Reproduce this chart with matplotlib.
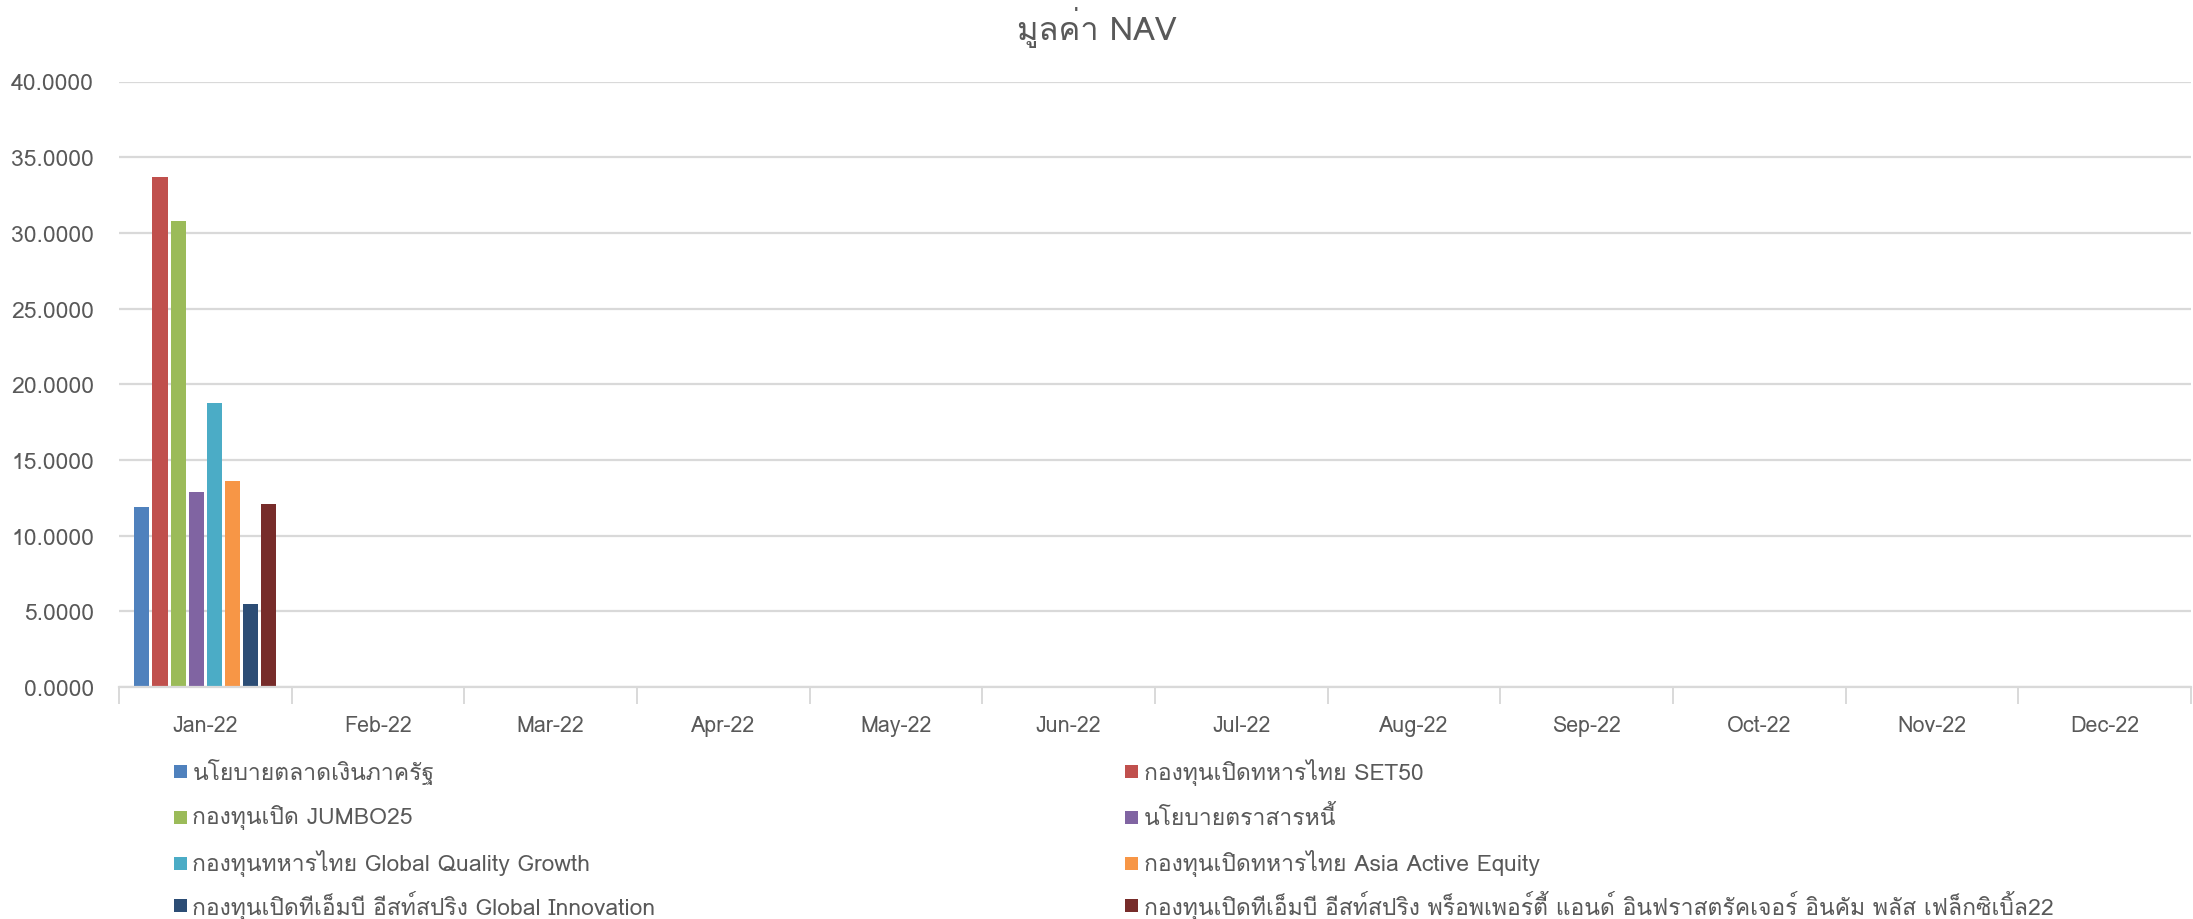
import matplotlib
matplotlib.use("Agg")
import matplotlib.pyplot as plt
from matplotlib import font_manager
from matplotlib.ft2font import FT2Font
from matplotlib.patches import Rectangle
import numpy as np

# ---------------- data ----------------
months = ["Jan-22", "Feb-22", "Mar-22", "Apr-22", "May-22", "Jun-22",
          "Jul-22", "Aug-22", "Sep-22", "Oct-22", "Nov-22", "Dec-22"]
series_names = [
    "นโยบายตลาดเงินภาครัฐ",
    "กองทุนเปิดทหารไทย SET50",
    "กองทุนเปิด JUMBO25",
    "นโยบายตราสารหนี้",
    "กองทุนทหารไทย Global Quality Growth",
    "กองทุนเปิดทหารไทย Asia Active Equity",
    "กองทุนเปิดทีเอ็มบี อีสท์สปริง Global Innovation",
    "กองทุนเปิดทีเอ็มบี อีสท์สปริง พร็อพเพอร์ตี้ แอนด์ อินฟราสตรัคเจอร์ อินคัม พลัส เฟล็กซิเบิ้ล22",
]
jan_values = [11.86, 33.66, 30.76, 12.86, 18.74, 13.64, 5.47, 12.07]
colors = ["#4F81BD", "#C0504D", "#9BBB59", "#8064A2",
          "#4BACC6", "#F79646", "#2C4D75", "#772C2A"]
yticks = [0, 5, 10, 15, 20, 25, 30, 35, 40]
title = "มูลค่า NAV"

# ---------------- fonts ----------------
thai_font = None
for f in font_manager.fontManager.ttflist:
    try:
        cm = FT2Font(f.fname).get_charmap()
        if ord("ก") in cm and ord("A") in cm:
            thai_font = f.name
            break
    except Exception:
        pass
families = []
if thai_font:
    families.append(thai_font)
families += ["Open Sans", "DejaVu Sans"]
plt.rcParams["font.family"] = families

TXT = "#595959"
GRID = "#D9D9D9"

fig = plt.figure(figsize=(21.93, 9.2), dpi=100)
ax = fig.add_axes([119 / 2193, 1 - 688 / 920, 1 - 119 / 2193 - 2 / 2193, (688 - 82.5) / 920])

n = len(series_names)
pitch = 0.105
bw = 0.087
x = np.arange(len(months))
for k in range(n):
    vals = [jan_values[k]] + [0] * (len(months) - 1)
    ax.bar(x + (k - (n - 1) / 2) * pitch, vals, width=bw, color=colors[k], zorder=3)

ax.set_xlim(-0.5, len(months) - 0.5)
ax.set_ylim(0, 40)
ax.set_yticks(yticks)
ax.set_yticklabels([f"{v:.4f}" for v in yticks], color=TXT, fontsize=16.5)
ax.set_xticks(x)
ax.set_xticklabels(months, color=TXT, fontsize=15.5)
ax.tick_params(axis="y", length=0, pad=18)
ax.tick_params(axis="x", length=0, pad=20)
# category boundary ticks
ax.set_xticks(np.arange(len(months) + 1) - 0.5, minor=True)
ax.tick_params(axis="x", which="minor", length=12, width=1.4, color=GRID, direction="out")

ax.yaxis.grid(True, color=GRID, linewidth=1.6, zorder=0)
for s in ["top", "right", "left"]:
    ax.spines[s].set_visible(False)
ax.spines["bottom"].set_color(GRID)
ax.spines["bottom"].set_linewidth(1.6)
ax.spines["bottom"].set_zorder(4)

fig.text(0.5, 1 - 28 / 920, title, ha="center", va="center", fontsize=23.5, color=TXT)

# legend (2 columns x 4 rows)
col_x = [180, 1131]
row_y = [772, 818, 864, 906]
for k, name in enumerate(series_names):
    cx = col_x[k % 2]
    cy = row_y[k // 2]
    sq = 13
    fig.patches.append(Rectangle(((cx - sq / 2) / 2193, 1 - (cy + sq / 2) / 920), sq / 2193, sq / 920,
                                 transform=fig.transFigure, facecolor=colors[k], edgecolor="none"))
    fig.text((cx + sq / 2 + 6) / 2193, 1 - cy / 920, name, ha="left", va="center",
             fontsize=16.5, color=TXT)

fig.savefig("out.png", dpi=100)
